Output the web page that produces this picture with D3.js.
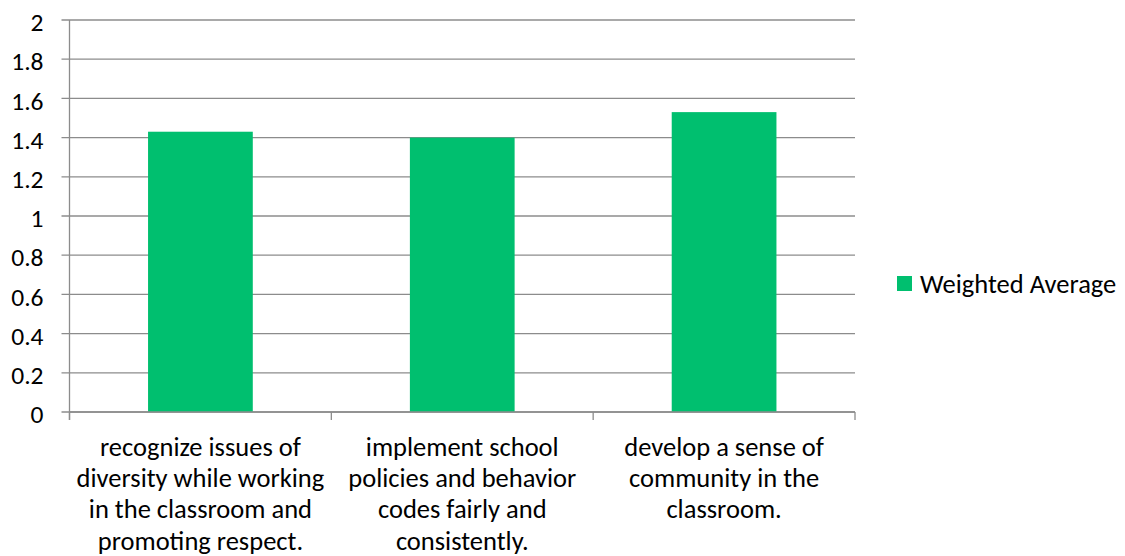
<!DOCTYPE html>
<html>
<head>
<meta charset="utf-8">
<script src="https://cdn.jsdelivr.net/npm/d3@7"></script>
<style>
  html, body { margin: 0; padding: 0; background: #fff; }
  svg { display: block; }
  text { font-family: Carlito, Calibri, Lato, "Open Sans", sans-serif; fill: #000; }
</style>
</head>
<body>
<svg id="chart" width="1125" height="556"></svg>
<script>
// Survey items (line breaks mark how each axis label wraps)
const categories = [
  "recognize issues of\ndiversity while working\nin the classroom and\npromoting respect.",
  "implement school\npolicies and behavior\ncodes fairly and\nconsistently.",
  "develop a sense of\ncommunity in the\nclassroom."
];
const weightedAverage = [1.43, 1.40, 1.53];
const seriesName = "Weighted Average";
const yTicks = [0, 0.2, 0.4, 0.6, 0.8, 1, 1.2, 1.4, 1.6, 1.8, 2];

const svg = d3.select("#chart");
const plot = { left: 69.5, right: 855, top: 20, bottom: 412 };
const labelSize = 26.5;
const tickSize = 25.5;
const gridColor = "#8c8c8c";
const barColor = "#00bf6f";

const x = d3.scaleBand()
  .domain(categories)
  .range([plot.left, plot.right])
  .paddingInner(0)
  .paddingOuter(0);

const y = d3.scaleLinear()
  .domain([0, 2])
  .range([plot.bottom, plot.top]);

// Horizontal gridlines, extended left to form the tick marks
svg.append("g")
  .selectAll("line")
  .data(yTicks)
  .join("line")
  .attr("x1", plot.left - 8)
  .attr("x2", plot.right)
  .attr("y1", d => y(d))
  .attr("y2", d => y(d))
  .attr("stroke", gridColor)
  .attr("stroke-width", 1.3);

// Value axis labels
const yAxis = d3.axisLeft(y)
  .tickValues(yTicks)
  .tickFormat(d => String(d))
  .tickSize(0)
  .tickPadding(0);
const yG = svg.append("g")
  .attr("transform", `translate(${plot.left - 26},0)`)
  .call(yAxis);
yG.select(".domain").remove();
yG.attr("font-family", null).attr("font-size", null);
yG.selectAll("text")
  .attr("font-size", tickSize)
  .attr("fill", "#000")
  .attr("dy", "0.42em");

// Bars
const barW = x.bandwidth() / 2.5;
svg.append("g")
  .selectAll("rect")
  .data(categories.map((c, i) => ({ c, v: weightedAverage[i] })))
  .join("rect")
  .attr("x", d => x(d.c) + (x.bandwidth() - barW) / 2)
  .attr("width", barW)
  .attr("y", d => y(d.v))
  .attr("height", d => y(0) - y(d.v))
  .attr("fill", barColor);

// Vertical value axis line
svg.append("line")
  .attr("x1", plot.left).attr("x2", plot.left)
  .attr("y1", plot.top).attr("y2", plot.bottom + 8)
  .attr("stroke", gridColor).attr("stroke-width", 1.3);

// Category axis with boundary tick marks
svg.append("line")
  .attr("x1", plot.left).attr("x2", plot.right)
  .attr("y1", plot.bottom).attr("y2", plot.bottom)
  .attr("stroke", gridColor).attr("stroke-width", 1.3);
const boundaries = categories.map(c => x(c)).concat([x(categories[categories.length - 1]) + x.bandwidth()]);
svg.append("g")
  .selectAll("line")
  .data(boundaries)
  .join("line")
  .attr("x1", d => d).attr("x2", d => d)
  .attr("y1", plot.bottom).attr("y2", plot.bottom + 8)
  .attr("stroke", gridColor).attr("stroke-width", 1.3);

// Category labels, wrapped line by line
const lineH = 31.2;
svg.append("g")
  .selectAll("text")
  .data(categories)
  .join("text")
  .attr("text-anchor", "middle")
  .attr("font-size", labelSize)
  .attr("transform", d => `translate(${x(d) + x.bandwidth() / 2},456)`)
  .each(function (d) {
    d3.select(this).selectAll("tspan")
      .data(d.split("\n"))
      .join("tspan")
      .attr("x", 0)
      .attr("y", (t, i) => i * lineH)
      .text(t => t);
  });

// Legend
const legend = svg.append("g").attr("transform", "translate(897,276)");
legend.append("rect")
  .attr("width", 15).attr("height", 15)
  .attr("fill", barColor);
legend.append("text")
  .attr("x", 23)
  .attr("y", 17)
  .attr("font-size", labelSize)
  .text(seriesName);
</script>
</body>
</html>
